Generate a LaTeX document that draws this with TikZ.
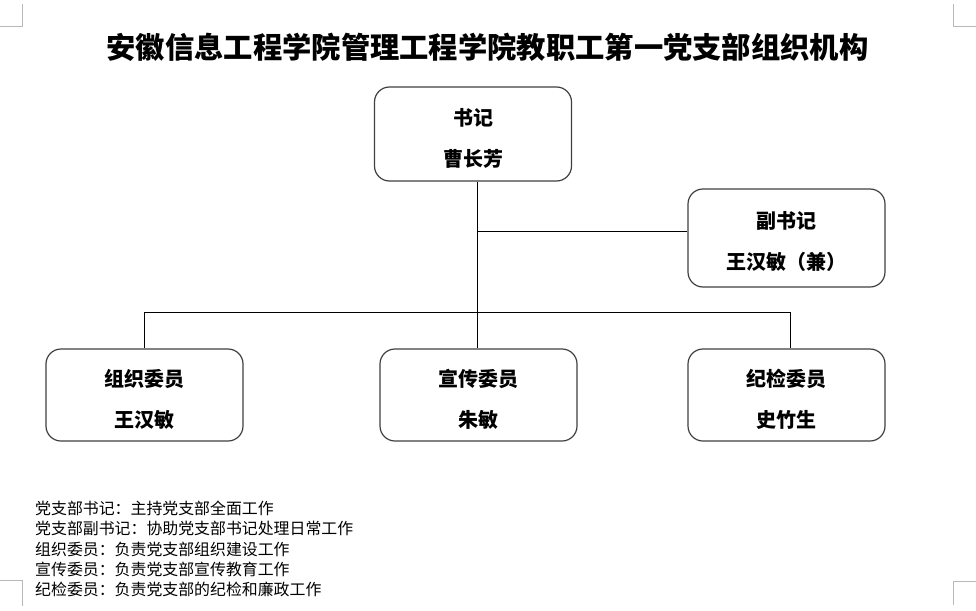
\documentclass[tikz,border=0pt]{standalone}
\usepackage{fontspec}
\setmainfont{Noto Sans CJK SC}
\newcommand{\boxstrut}{\rule{0pt}{25pt}}
\begin{document}
\begin{tikzpicture}[x=1pt,y=-1pt,
  box/.style={draw=black!75,line width=1.2pt,rounded corners=15pt,minimum width=197pt,
    minimum height=94pt,align=center,inner sep=0pt,
    font=\fontsize{20}{41}\selectfont\bfseries},
  conn/.style={draw=black,line width=1pt},
  cropmark/.style={draw=black!28,line width=1pt}]
\useasboundingbox (0,0) rectangle (976,610);
\fill[white] (0,0) rectangle (976,610);
% crop marks
\draw[cropmark] (0,27) -- (22,27) -- (22,4);
\draw[cropmark] (976,27) -- (953,27) -- (953,4);
\draw[cropmark] (0,580) -- (22,580) -- (22,606);
\draw[cropmark] (976,581) -- (953,581) -- (953,605);
% title
\node[font=\fontsize{29.3}{30}\selectfont\bfseries,inner sep=0pt] (title) at (487.5,47)
  {安徽信息工程学院管理工程学院教职工第一党支部组织机构};
% boxes
\node[box] (sj) at (473,134) {\boxstrut 书记\\曹长芳};
\node[box,minimum height=98pt] (fsj) at (786.5,238) {\boxstrut 副书记\\王汉敏（兼）};
\node[box,minimum height=92pt] (zz) at (144.5,395) {\boxstrut 组织委员\\王汉敏};
\node[box,minimum height=92pt] (xc) at (478.5,395) {\boxstrut 宣传委员\\朱敏};
\node[box,minimum height=92pt] (jj) at (786.5,395) {\boxstrut 纪检委员\\史竹生};
% connectors
\coordinate (trunk) at (477.5,181);
\coordinate (j1) at (477.5,231.7);
\coordinate (bl) at (144,312.5);
\coordinate (br) at (790.3,312.5);
\draw[conn] (trunk |- sj.south) -- (trunk |- xc.north);
\draw[conn] (j1) -- (j1 -| fsj.west);
\draw[conn] (bl |- zz.north) -- (bl) -- (br) -- (br |- jj.north);
% notes
\node[anchor=west,align=left,inner sep=0pt,font=\fontsize{15.9}{20.25}\selectfont] (notes) at (35,549)
  {党支部书记：主持党支部全面工作\\
   党支部副书记：协助党支部书记处理日常工作\\
   组织委员：负责党支部组织建设工作\\
   宣传委员：负责党支部宣传教育工作\\
   纪检委员：负责党支部的纪检和廉政工作};
\end{tikzpicture}
\end{document}
